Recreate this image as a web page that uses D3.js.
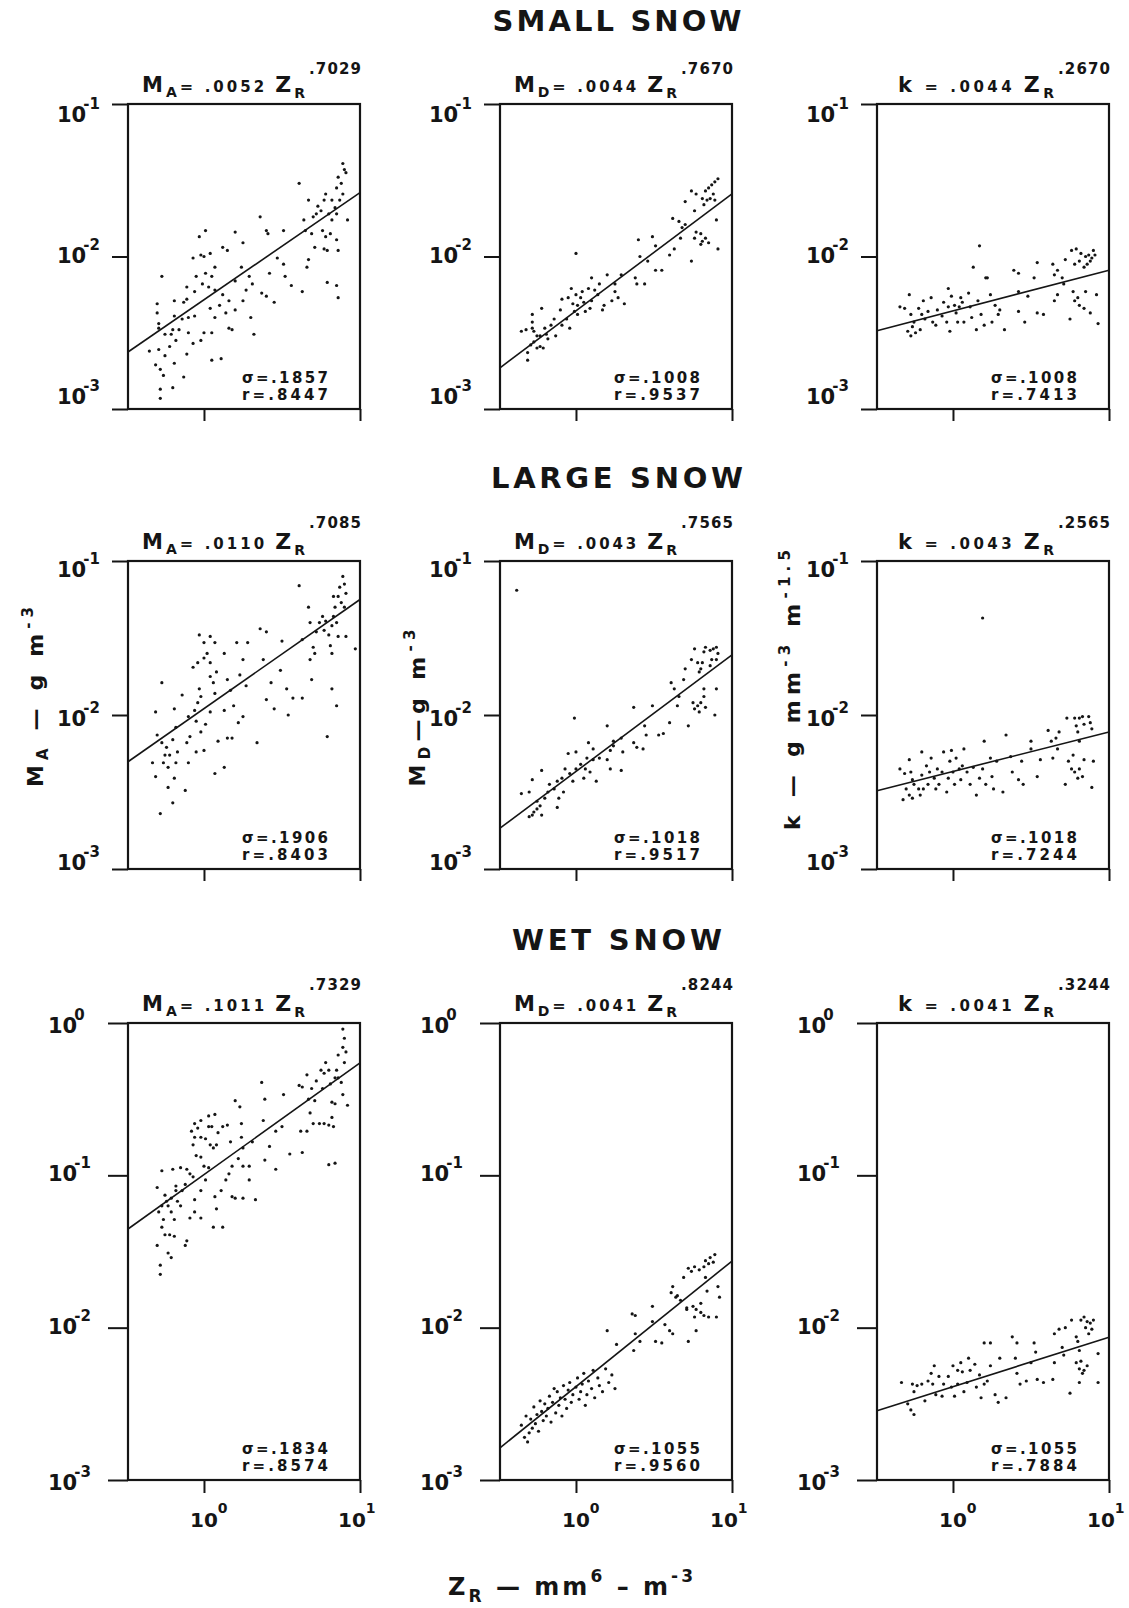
<!DOCTYPE html>
<html>
<head>
<meta charset="utf-8">
<script src="https://cdn.jsdelivr.net/npm/d3@7"></script>
<style>
body{margin:0;background:#fff}
text{font-family:"DejaVu Sans",sans-serif;font-weight:bold;fill:#151515}
</style>
</head>
<body>
<script>
// snow types (rows) and fitted relations (columns)
var rowTitles=["SMALL SNOW","LARGE SNOW","WET SNOW"];
var coef=[[0.0052,0.0044,0.0044],[0.0110,0.0043,0.0043],[0.1011,0.0041,0.0041]];
var expo=[[0.7029,0.7670,0.2670],[0.7085,0.7565,0.2565],[0.7329,0.8244,0.3244]];
var sigma=[[0.1857,0.1008,0.1008],[0.1906,0.1018,0.1018],[0.1834,0.1055,0.1055]];
var rcorr=[[0.8447,0.9537,0.7413],[0.8403,0.9517,0.7244],[0.8574,0.9560,0.7884]];
var yTickExp=[[-3,-2,-1],[-3,-2,-1],[-3,-2,-1,0]];
var xTickExp=[0,1];

// points as [log10 Z_R, log10 value]
var smallMA=[[-0.30,-2.31],[-0.30,-2.37],[-0.27,-2.13],[-0.35,-2.62],[-0.29,-2.44],[-0.29,-2.61],[-0.31,-2.71],[-0.28,-2.74],[-0.26,-2.78],[-0.28,-2.87],[-0.20,-2.86],[-0.28,-2.93],[-0.13,-2.79],[-0.19,-2.70],[-0.25,-2.65],[-0.22,-2.59],[-0.18,-2.55],[-0.20,-2.48],[-0.21,-2.51],[-0.19,-2.39],[-0.19,-2.29],[-0.13,-2.30],[-0.11,-2.20],[-0.29,-2.47],[-0.25,-2.51],[-0.16,-2.48],[-0.14,-2.41],[-0.11,-2.64],[-0.07,-2.57],[-0.02,-2.55],[0.00,-2.50],[0.05,-2.50],[0.07,-2.40],[0.04,-2.34],[0.10,-2.32],[-0.06,-2.39],[-0.10,-2.40],[-0.10,-2.50],[0.05,-2.68],[0.11,-2.67],
[-0.07,-2.01],[-0.03,-1.87],[0.01,-1.83],[-0.02,-1.99],[0.00,-2.00],[0.04,-1.98],[0.07,-2.07],[0.12,-1.94],[0.15,-1.96],[-0.05,-2.13],[-0.01,-2.18],[0.03,-2.20],[0.07,-2.22],[0.01,-2.11],[0.05,-2.13],[0.12,-2.25],[0.16,-2.29],[0.20,-2.16],[0.25,-1.91],[0.20,-1.84],[0.24,-2.07],[0.29,-2.13],[0.31,-2.18],[0.27,-2.22],[0.25,-2.29],[0.20,-2.35],[0.16,-2.47],[0.18,-2.48],[0.14,-2.37],[-0.06,-2.23],[-0.11,-2.28],
[0.32,-2.51],[0.30,-2.40],[0.37,-2.24],[0.40,-2.26],[0.45,-2.30],[0.42,-2.11],[0.47,-2.01],[0.51,-2.05],[0.51,-1.83],[0.40,-1.83],[0.36,-1.74],[0.41,-1.85],[0.52,-2.13],[0.56,-2.19],[0.63,-2.23],
[0.61,-1.52],[0.67,-1.63],[0.64,-1.76],[0.65,-1.83],[0.69,-1.85],[0.71,-1.94],[0.66,-2.07],[0.67,-2.02],[0.72,-1.72],[0.75,-1.70],[0.76,-1.83],[0.78,-1.87],[0.79,-1.96],[0.77,-1.63],[0.80,-1.72],[0.82,-1.76],[0.85,-1.89],[0.86,-1.96],[0.84,-1.68],[0.87,-1.63],[0.89,-1.59],[0.88,-1.52],[0.85,-1.55],[0.89,-1.39],[0.91,-1.45],[0.90,-1.43],[0.86,-1.48],[0.92,-1.76],[0.79,-2.17],[0.85,-2.19],[0.86,-2.27],[0.81,-1.85],[0.77,-1.95],[0.70,-1.74],[0.73,-1.67],[0.82,-1.63],[0.78,-1.59],[0.85,-1.72]];

var smallMD=[[-0.35,-2.49],[-0.32,-2.48],[-0.28,-2.47],[-0.27,-2.49],[-0.25,-2.52],[-0.28,-2.38],[-0.28,-2.43],[-0.31,-2.63],[-0.31,-2.68],[-0.29,-2.58],[-0.27,-2.56],[-0.25,-2.60],[-0.23,-2.59],[-0.21,-2.60],[-0.22,-2.34],[-0.19,-2.51],[-0.18,-2.54],[-0.16,-2.45],[-0.14,-2.41],[-0.13,-2.52],[-0.20,-2.47],[-0.23,-2.52],
[-0.10,-2.35],[-0.09,-2.45],[-0.06,-2.41],[-0.04,-2.47],[-0.02,-2.31],[-0.01,-2.36],[0.01,-2.32],[0.03,-2.27],[0.05,-2.30],[0.01,-2.38],[0.06,-2.36],[0.09,-2.34],[0.10,-2.29],[0.08,-2.21],[0.12,-2.22],[0.14,-2.25],[0.15,-2.18],[0.10,-2.14],[0.17,-2.35],[0.18,-2.32],[0.23,-2.29],[0.25,-2.23],[0.27,-2.27],[0.31,-2.31],[0.04,-2.23],[0.00,-2.25],[-0.05,-2.27],[-0.03,-2.21],[-0.09,-2.28],[0.20,-2.12],[0.29,-2.12],[0.25,-2.18],[0.00,-1.98],
[0.38,-2.14],[0.39,-2.18],[0.44,-2.18],[0.41,-2.00],[0.46,-2.03],[0.51,-2.09],[0.55,-2.09],[0.40,-1.89],[0.49,-1.87],[0.51,-1.93],[0.60,-1.99],[0.63,-1.95],[0.62,-1.75],[0.66,-1.77],[0.68,-1.81],[0.70,-1.79],[0.70,-1.64],[0.67,-1.88],[0.74,-2.03],[0.76,-1.88],[0.77,-1.84],[0.80,-1.85],[0.81,-1.90],[0.83,-1.88],[0.85,-1.91],[0.80,-1.92],[0.91,-1.95],[0.90,-1.76],
[0.74,-1.57],[0.77,-1.59],[0.81,-1.62],[0.83,-1.57],[0.85,-1.55],[0.87,-1.53],[0.88,-1.59],[0.89,-1.51],[0.91,-1.49],[0.86,-1.62],[0.84,-1.63],[0.82,-1.66],[0.89,-1.63],[0.76,-1.70]];

var smallK=[[-0.34,-2.33],[-0.31,-2.34],[-0.28,-2.25],[-0.27,-2.38],[-0.25,-2.43],[-0.26,-2.46],[-0.29,-2.49],[-0.27,-2.52],[-0.24,-2.50],[-0.21,-2.48],[-0.20,-2.38],[-0.22,-2.34],[-0.19,-2.29],[-0.18,-2.41],[-0.16,-2.36],[-0.14,-2.27],[-0.13,-2.43],[-0.11,-2.45],[-0.10,-2.35],[-0.07,-2.39],[-0.06,-2.30],[-0.04,-2.43],[-0.03,-2.21],[-0.01,-2.26],[0.01,-2.32],[0.02,-2.37],[0.04,-2.33],[0.06,-2.30],[0.07,-2.43],[0.10,-2.24],[0.11,-2.33],[0.12,-2.40],[0.15,-2.48],[0.16,-2.29],[0.18,-2.38],[0.20,-2.45],[0.25,-2.43],[0.29,-2.38],[0.33,-2.48],[0.21,-2.14],[0.24,-2.25],[0.27,-2.32],[0.30,-2.35],[0.03,-2.43],[-0.02,-2.49],[0.05,-2.27],[-0.03,-2.33],
[0.39,-2.09],[0.42,-2.11],[0.42,-2.23],[0.42,-2.36],[0.46,-2.43],[0.48,-2.26],[0.52,-2.14],[0.54,-2.04],[0.54,-2.37],[0.58,-2.38],[0.17,-1.93],[0.13,-2.07],[0.22,-2.14],
[0.64,-2.05],[0.65,-2.12],[0.67,-2.09],[0.70,-2.14],[0.71,-2.18],[0.67,-2.25],[0.65,-2.29],[0.72,-2.02],[0.75,-2.41],[0.77,-2.23],[0.78,-2.29],[0.80,-2.27],[0.81,-2.32],[0.84,-2.34],[0.85,-2.23],[0.88,-2.37],[0.93,-2.44],[0.92,-2.25],[0.76,-1.96],[0.79,-1.95],[0.82,-1.98],[0.85,-2.00],[0.87,-1.99],[0.89,-2.01],[0.91,-1.99],[0.88,-2.03],[0.86,-2.05],[0.90,-1.96],[0.81,-2.03],[0.84,-2.07],[0.78,-2.05]];

var largeMA=[[-0.27,-1.79],[-0.31,-1.98],[-0.30,-2.13],[-0.27,-2.18],[-0.33,-2.31],[-0.31,-2.40],[-0.28,-2.64],[-0.26,-2.31],[-0.25,-2.26],[-0.24,-2.21],[-0.23,-2.34],[-0.22,-2.26],[-0.23,-2.47],[-0.20,-2.57],[-0.19,-2.41],[-0.18,-2.31],[-0.17,-2.24],[-0.20,-2.16],[-0.18,-2.08],[-0.19,-1.96],[-0.14,-1.87],[-0.12,-2.49],[-0.10,-2.31],[-0.11,-2.18],[-0.09,-2.14],[-0.10,-2.01],[-0.06,-1.97],[-0.05,-2.04],[-0.04,-1.92],[-0.03,-1.83],[-0.02,-1.88],[-0.07,-1.69],[-0.04,-1.66],[0.00,-1.63],[0.02,-1.60],[0.04,-1.66],[0.04,-1.75],[0.06,-1.79],[0.08,-1.72],[0.07,-1.86],[0.00,-1.53],[-0.03,-1.48],[0.04,-1.49],[0.07,-1.53],[0.13,-1.60],[0.15,-1.77],[0.17,-1.84],[0.19,-1.94],[0.21,-1.53],[0.25,-1.64],[0.28,-1.53],[0.23,-1.74],[0.27,-1.81],[0.25,-2.01],[0.22,-2.05],[0.18,-2.15],[0.15,-2.15],[0.09,-2.17],[0.13,-2.34],[0.07,-2.38],[0.00,-2.23],[-0.02,-2.11],[0.01,-2.06],[0.04,-1.98],[0.13,-1.97],[-0.05,-2.24],
[0.34,-2.18],[0.36,-1.44],[0.40,-1.46],[0.38,-1.64],[0.43,-1.79],[0.40,-1.90],[0.45,-1.96],[0.50,-1.52],[0.49,-1.71],[0.53,-1.83],[0.57,-1.89],[0.61,-1.16],[0.63,-1.51],[0.67,-1.30],[0.68,-1.40],[0.70,-1.56],[0.68,-1.64],[0.69,-1.77],[0.71,-1.60],[0.72,-1.46],[0.74,-1.40],[0.76,-1.36],[0.77,-1.45],[0.80,-1.48],[0.81,-1.55],[0.82,-1.60],[0.83,-1.36],[0.84,-1.30],[0.86,-1.23],[0.87,-1.17],[0.89,-1.10],[0.90,-1.15],[0.91,-1.21],[0.88,-1.27],[0.85,-1.40],[0.86,-1.49],[0.91,-1.49],[0.82,-1.83],[0.85,-1.94],[0.79,-2.14],[0.63,-1.89],[0.97,-1.57],[0.82,-1.42],[0.78,-1.39],[0.90,-1.30],[0.54,-2.00],[0.83,-1.23]];

var largeMD=[[-0.38,-1.19],[-0.35,-2.51],[-0.30,-2.50],[-0.28,-2.42],[-0.28,-2.65],[-0.30,-2.66],[-0.27,-2.63],[-0.25,-2.61],[-0.23,-2.59],[-0.22,-2.65],[-0.25,-2.56],[-0.22,-2.36],[-0.20,-2.54],[-0.18,-2.50],[-0.17,-2.45],[-0.14,-2.48],[-0.12,-2.43],[-0.11,-2.54],[-0.12,-2.60],[-0.08,-2.50],[-0.09,-2.41],[-0.07,-2.35],[-0.05,-2.25],[-0.04,-2.38],[-0.02,-2.43],[0.00,-2.35],[0.03,-2.32],[0.05,-2.41],[0.06,-2.35],[0.07,-2.28],[0.09,-2.37],[0.11,-2.29],[0.13,-2.43],[0.00,-2.24],[0.08,-2.18],[0.11,-2.22],[0.15,-2.28],[0.20,-2.29],[0.22,-2.23],[0.22,-2.35],[0.24,-2.20],[0.29,-2.36],[0.30,-2.24],[-0.01,-2.02],[0.20,-2.07],[0.24,-2.17],[0.29,-2.15],
[0.37,-2.18],[0.39,-2.21],[0.43,-2.22],[0.44,-2.07],[0.45,-2.13],[0.49,-1.94],[0.53,-2.13],[0.56,-2.12],[0.37,-1.95],[0.60,-2.05],[0.61,-1.79],[0.63,-1.83],[0.65,-1.94],[0.66,-1.88],[0.69,-1.77],[0.72,-2.07],[0.70,-1.70],[0.75,-1.92],[0.76,-1.96],[0.78,-1.94],[0.79,-1.98],[0.80,-1.92],[0.82,-1.88],[0.83,-1.95],[0.89,-2.00],[0.90,-1.83],[0.82,-1.83],
[0.74,-1.64],[0.76,-1.57],[0.78,-1.66],[0.80,-1.70],[0.82,-1.59],[0.83,-1.56],[0.86,-1.58],[0.88,-1.57],[0.90,-1.56],[0.87,-1.64],[0.90,-1.64],[0.86,-1.68],[0.79,-1.72],[0.91,-1.60],[0.81,-1.66]];

var largeK=[[-0.34,-2.35],[-0.31,-2.38],[-0.28,-2.29],[-0.27,-2.37],[-0.26,-2.42],[-0.25,-2.45],[-0.30,-2.48],[-0.32,-2.55],[-0.28,-2.52],[-0.26,-2.54],[-0.22,-2.48],[-0.21,-2.52],[-0.20,-2.24],[-0.20,-2.39],[-0.19,-2.48],[-0.17,-2.33],[-0.16,-2.45],[-0.15,-2.37],[-0.14,-2.28],[-0.12,-2.41],[-0.11,-2.48],[-0.10,-2.35],[-0.09,-2.45],[-0.06,-2.24],[-0.07,-2.37],[-0.04,-2.50],[-0.03,-2.41],[-0.02,-2.30],[-0.01,-2.23],[0.00,-2.37],[0.01,-2.45],[0.02,-2.28],[0.04,-2.35],[0.05,-2.42],[0.06,-2.33],[0.07,-2.22],[0.09,-2.37],[0.11,-2.45],[0.13,-2.34],[0.15,-2.52],[0.17,-2.41],[0.19,-2.35],[0.20,-2.17],[0.21,-2.45],[0.24,-2.28],[0.25,-2.40],[0.26,-2.48],[0.28,-2.30],[0.32,-2.50],[0.34,-2.13],[0.37,-2.27],[0.38,-2.37],[0.42,-2.42],[0.44,-2.30],[0.45,-2.45],[0.50,-2.17],[0.50,-2.22],[0.54,-2.40],[0.56,-2.29],[0.19,-1.37],
[0.61,-2.10],[0.63,-2.17],[0.64,-2.28],[0.66,-2.15],[0.67,-2.22],[0.68,-2.11],[0.72,-2.45],[0.73,-2.02],[0.74,-2.30],[0.76,-2.35],[0.77,-2.26],[0.78,-2.02],[0.79,-2.07],[0.80,-2.11],[0.81,-2.02],[0.83,-2.01],[0.84,-2.06],[0.87,-2.01],[0.88,-2.05],[0.89,-2.09],[0.78,-2.37],[0.80,-2.41],[0.81,-2.35],[0.84,-2.29],[0.89,-2.47],[0.83,-2.40],[0.90,-2.30],[0.81,-2.17]];

var wetMA=[[-0.28,-1.65],[-0.28,-1.59],[-0.30,-1.46],[-0.23,-1.51],[-0.21,-1.54],[-0.12,-1.46],[-0.11,-1.43],[-0.25,-1.39],[-0.22,-1.39],[-0.19,-1.40],[-0.27,-1.34],[-0.26,-1.29],[-0.29,-1.24],[-0.30,-1.08],[-0.27,-1.20],[-0.24,-1.17],[-0.23,-1.20],[-0.21,-1.24],[-0.19,-1.29],[-0.15,-1.20],[-0.18,-1.10],[-0.27,-0.97],[-0.25,-1.13],[-0.21,-1.15],[-0.17,-1.17],[-0.14,-1.10],[-0.12,-1.06],[-0.18,-1.07],[-0.20,-0.96],[-0.15,-0.95],[-0.11,-0.96],[-0.09,-0.99],[-0.07,-1.01],[-0.09,-1.28],[-0.06,-1.24],[-0.02,-1.28],[-0.06,-1.16],[-0.02,-1.10],[0.01,-1.03],[0.03,-0.95],[-0.02,-0.88],[0.00,-0.94],[-0.05,-0.87],[-0.07,-0.80],[-0.06,-0.75],[-0.02,-0.75],[0.01,-0.76],[0.04,-0.80],[0.06,-0.82],[0.08,-0.80],[0.03,-0.68],[-0.04,-0.69],[-0.08,-0.71],[-0.06,-0.66],[-0.02,-0.64],[0.03,-0.61],[0.07,-0.60],[0.05,-0.68],[0.09,-0.72],[0.12,-0.68],[0.15,-0.67],[0.17,-0.78],[0.20,-0.51],[0.23,-0.55],[0.24,-0.66],[0.24,-0.75],[0.25,-0.82],[0.22,-0.89],[0.18,-0.94],[0.16,-0.99],[0.14,-1.03],[0.11,-1.10],[0.07,-1.14],[0.08,-1.22],[0.06,-1.34],[0.12,-1.34],[0.18,-1.14],[0.20,-1.15],[0.25,-1.15],[0.33,-1.16],[0.29,-1.03],[0.29,-0.94],[0.25,-0.94],[0.31,-0.78],
[0.37,-0.39],[0.39,-0.50],[0.38,-0.64],[0.39,-0.90],[0.42,-0.81],[0.46,-0.96],[0.46,-0.71],[0.50,-0.68],[0.51,-0.47],[0.55,-0.86],[0.62,-0.71],[0.63,-0.85],[0.61,-0.41],[0.63,-0.42],[0.66,-0.34],[0.66,-0.71],[0.67,-0.50],[0.69,-0.43],[0.68,-0.59],[0.70,-0.66],[0.71,-0.51],[0.72,-0.38],[0.75,-0.31],[0.76,-0.43],[0.77,-0.33],[0.78,-0.26],[0.80,-0.31],[0.81,-0.40],[0.82,-0.52],[0.77,-0.66],[0.80,-0.67],[0.82,-0.62],[0.83,-0.68],[0.74,-0.66],[0.84,-0.36],[0.85,-0.31],[0.86,-0.21],[0.89,-0.16],[0.90,-0.10],[0.89,-0.04],[0.91,-0.19],[0.90,-0.26],[0.88,-0.39],[0.89,-0.47],[0.92,-0.54],[0.80,-0.93],[0.84,-0.92],[0.84,-0.53],[0.86,-0.36]];

var wetMD=[[-0.33,-2.72],[-0.31,-2.75],[-0.30,-2.69],[-0.28,-2.66],[-0.29,-2.60],[-0.26,-2.63],[-0.25,-2.57],[-0.24,-2.68],[-0.22,-2.55],[-0.21,-2.61],[-0.20,-2.50],[-0.19,-2.58],[-0.18,-2.53],[-0.17,-2.45],[-0.16,-2.62],[-0.15,-2.49],[-0.13,-2.56],[-0.12,-2.42],[-0.11,-2.51],[-0.10,-2.46],[-0.09,-2.58],[-0.08,-2.38],[-0.07,-2.47],[-0.06,-2.53],[-0.05,-2.41],[-0.04,-2.36],[-0.03,-2.49],[-0.02,-2.44],[0.00,-2.39],[0.01,-2.33],[0.02,-2.47],[0.03,-2.42],[0.04,-2.37],[0.05,-2.30],[0.06,-2.51],[0.07,-2.44],[0.08,-2.35],[0.10,-2.40],[0.11,-2.28],[0.12,-2.46],[0.14,-2.33],[0.15,-2.38],[0.17,-2.42],[0.19,-2.27],[0.21,-2.36],[0.23,-2.31],[0.25,-2.40],[-0.27,-2.52],[-0.23,-2.48],[-0.14,-2.40],[-0.35,-2.64],[-0.32,-2.58],
[0.86,-1.54],[0.85,-1.58],[0.83,-1.56],[0.88,-1.57],[0.89,-1.52],[0.82,-1.60],[0.79,-1.62],[0.76,-1.60],[0.74,-1.63],[0.72,-1.61],[0.69,-1.67],[0.83,-1.67],[0.91,-1.73],[0.62,-1.73],[0.61,-1.77],[0.64,-1.80],[0.65,-1.79],[0.67,-1.82],[0.71,-1.87],[0.75,-1.86],[0.77,-1.88],[0.80,-1.90],[0.82,-1.92],[0.76,-1.93],[0.80,-1.84],[0.85,-1.93],[0.90,-1.93],[0.77,-2.02],[0.72,-2.09],[0.84,-1.76],[0.60,-2.02],[0.62,-2.04],[0.57,-1.98],[0.49,-1.96],[0.49,-1.86],[0.51,-2.09],[0.55,-2.10],[0.36,-1.91],[0.38,-1.92],[0.38,-2.04],[0.41,-2.09],[0.37,-2.15],[0.20,-2.02],[0.26,-2.11],[0.71,-1.88],[0.92,-1.80]];

var wetK=[[-0.33,-2.36],[-0.29,-2.50],[-0.27,-2.54],[-0.25,-2.57],[-0.26,-2.37],[-0.25,-2.42],[-0.23,-2.38],[-0.20,-2.37],[-0.18,-2.48],[-0.16,-2.35],[-0.14,-2.30],[-0.12,-2.25],[-0.13,-2.37],[-0.11,-2.44],[-0.09,-2.32],[-0.07,-2.45],[-0.06,-2.37],[-0.03,-2.32],[-0.01,-2.39],[0.00,-2.25],[0.01,-2.45],[0.03,-2.28],[0.03,-2.37],[0.05,-2.23],[0.06,-2.29],[0.07,-2.42],[0.09,-2.36],[0.10,-2.20],[0.11,-2.28],[0.14,-2.24],[0.15,-2.39],[0.17,-2.31],[0.18,-2.46],[0.20,-2.37],[0.22,-2.35],[0.24,-2.25],[0.27,-2.44],[0.29,-2.49],[0.30,-2.20],[0.34,-2.46],[0.20,-2.10],[0.24,-2.10],
[0.38,-2.06],[0.40,-2.20],[0.41,-2.30],[0.43,-2.37],[0.47,-2.35],[0.50,-2.23],[0.52,-2.10],[0.53,-2.16],[0.54,-2.34],[0.58,-2.36],[0.64,-2.34],[0.65,-2.23],[0.65,-2.04],[0.68,-2.01],[0.70,-2.13],[0.71,-2.18],[0.72,-2.00],[0.75,-2.43],[0.76,-1.95],[0.79,-2.06],[0.80,-2.09],[0.81,-2.15],[0.79,-2.23],[0.81,-2.27],[0.82,-2.22],[0.84,-2.28],[0.86,-2.25],[0.83,-2.30],[0.81,-2.36],[0.85,-2.00],[0.86,-1.96],[0.88,-1.97],[0.90,-1.95],[0.89,-2.01],[0.87,-2.04],[0.93,-2.17],[0.93,-2.36],[0.84,-1.93],[0.82,-1.95],[0.41,-2.10]];

var points=[[smallMA,smallMD,smallK],[largeMA,largeMD,largeK],[wetMA,wetMD,wetK]];

// layout
var W=232, xMin=Math.pow(10,-0.487);
var colX=[128,500,877], rowY=[104,561,1023], rowH=[305,308,457];
var tickLen=[16,16,20];
var labShift=[[18,6,-5],[16,11,1],[10,6,6,10]]; // top to bottom
var labX=[-71,-71,-80];
var xLabDx=[-14,-22];
var titleLen=[249,252,210];

var svg=d3.select("body").append("svg").attr("width",1129).attr("height",1608);
svg.append("rect").attr("width",1129).attr("height",1608).attr("fill","#fff");

var fmt=function(v){return d3.format(".4f")(v).replace(/^0/,"");};

for(var r=0;r<3;r++){
  svg.append("text").attr("x",617).attr("y",rowY[r]-73).attr("text-anchor","middle")
    .attr("textLength",titleLen[r]).style("font-size","29px").text(rowTitles[r]);

  for(var c=0;c<3;c++){
    var H=rowH[r];
    var yMax=Math.pow(10,d3.max(yTickExp[r]));
    var x=d3.scaleLog().domain([xMin,10]).range([0,W]);
    var y=d3.scaleLog().domain([1e-3,yMax]).range([H,0]);
    var g=svg.append("g").attr("transform","translate("+colX[c]+","+rowY[r]+")");

    g.append("g").call(d3.axisLeft(y).tickValues(yTickExp[r].map(function(e){return Math.pow(10,e);}))
      .tickSize(tickLen[r]).tickFormat(""));
    g.append("g").attr("transform","translate(0,"+H+")")
      .call(d3.axisBottom(x).tickValues(xTickExp.map(function(e){return Math.pow(10,e);})).tickSize(r==2?13:12).tickFormat(""));
    g.selectAll(".domain").remove();
    g.selectAll(".tick line").attr("stroke","#151515").attr("stroke-width",2);

    // 10^n labels on y
    var n=yTickExp[r].length;
    yTickExp[r].forEach(function(e,i){
      var t=g.append("text").attr("x",labX[r]).attr("y",y(Math.pow(10,e))+labShift[r][n-1-i])
        .style("font-size","21px");
      t.append("tspan").text("10");
      t.append("tspan").attr("dx",-3).attr("dy",-13).style("font-size","15px").text(e);
    });
    if(r==2){
      xTickExp.forEach(function(e,i){
        var t=g.append("text").attr("x",x(Math.pow(10,e))+xLabDx[i]).attr("y",H+47).style("font-size","20px");
        t.append("tspan").text("10");
        t.append("tspan").attr("dx",0).attr("dy",-14).style("font-size","14px").text(e);
      });
    }

    g.append("rect").attr("width",W).attr("height",H).attr("fill","none")
      .attr("stroke","#151515").attr("stroke-width",2.2);

    g.selectAll("circle").data(points[r][c]).enter().append("circle")
      .attr("cx",function(d){return x(Math.pow(10,d[0]));})
      .attr("cy",function(d){return y(Math.pow(10,d[1]));})
      .attr("r",1.6).attr("fill","#151515");

    var a=coef[r][c], b=expo[r][c];
    var fit=d3.line().x(function(z){return x(z);}).y(function(z){return y(a*Math.pow(z,b));});
    g.append("path").datum(x.domain()).attr("d",fit).attr("fill","none")
      .attr("stroke","#151515").attr("stroke-width",1.6);

    // equation above the frame
    var ex=c==2?21:14;
    var eq=g.append("text").attr("x",ex).attr("y",-12).attr("textLength",W-55-ex);
    if(c<2){
      eq.append("tspan").style("font-size","21px").text("M");
      eq.append("tspan").attr("dy",5).style("font-size","14px").text(c==0?"A":"D");
      eq.append("tspan").attr("dy",-5).style("font-size","16px").text("= ");
    }else{
      eq.append("tspan").style("font-size","21px").text("k");
      eq.append("tspan").style("font-size","16px").text(" = ");
    }
    eq.append("tspan").style("font-size","15px").text(fmt(a)+" ");
    eq.append("tspan").style("font-size","22px").text("Z");
    eq.append("tspan").attr("dy",6).style("font-size","14px").text("R");
    g.append("text").attr("x",W-51).attr("y",r==0?-30:-33).attr("textLength",52)
      .style("font-size","15px").text(fmt(b));

    g.append("text").attr("x",W-118).attr("y",H-26).attr("textLength",86)
      .style("font-size","15px").text("\u03c3=" + fmt(sigma[r][c]));
    g.append("text").attr("x",W-118).attr("y",H-9).attr("textLength",86)
      .style("font-size","15px").text("r=" + fmt(rcorr[r][c]));
  }
}

// y titles of the middle row
var yTitles=[
  {x:43,y:697,len:180,parts:[["M",22,0],["A",15,5],[" \u2014 g m",22,-5],["-3",15,-10]]},
  {x:425,y:708,len:157,parts:[["M",22,0],["D",15,5],["\u2014g m",22,-5],["-3",15,-10]]},
  {x:800,y:690,len:280,parts:[["k \u2014 g mm",22,0],["-3",15,-10],[" m",22,10],["-1.5",15,-10]]}
];
yTitles.forEach(function(d){
  var t=svg.append("text").attr("transform","translate("+d.x+","+d.y+") rotate(-90)")
    .attr("text-anchor","middle").attr("textLength",d.len);
  d.parts.forEach(function(p){
    t.append("tspan").attr("dy",p[2]).style("font-size",p[1]+"px").text(p[0]);
  });
});

var xt=svg.append("text").attr("x",448).attr("y",1595).attr("textLength",245);
[["Z",24,0],["R",17,7],[" \u2014 mm",24,-7],["6",17,-13],[" \u2013 m",24,13],["-3",17,-13]].forEach(function(p){
  xt.append("tspan").attr("dy",p[2]).style("font-size",p[1]+"px").text(p[0]);
});
</script>
</body>
</html>
